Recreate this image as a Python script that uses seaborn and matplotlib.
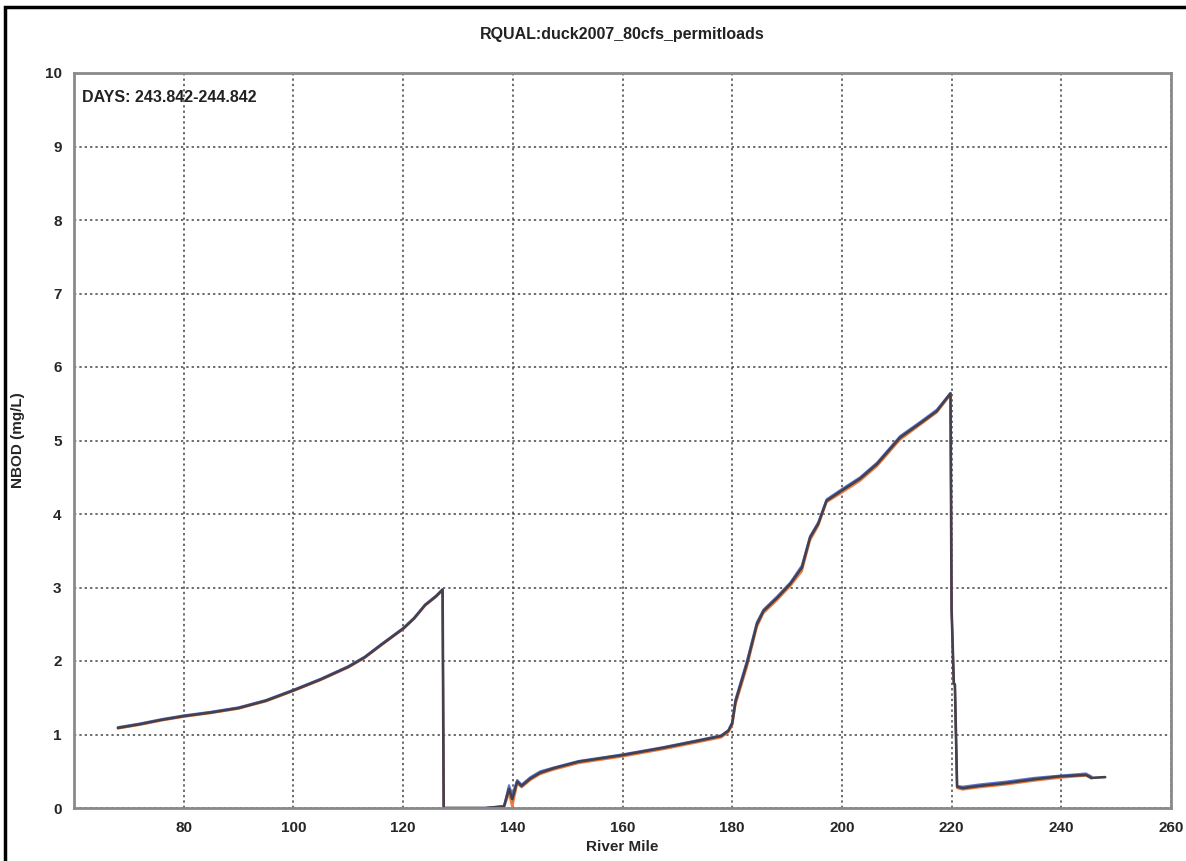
import numpy as np
import pandas as pd
import matplotlib
matplotlib.use("Agg")
import matplotlib.pyplot as plt
from matplotlib.patches import Rectangle
import seaborn as sns

# ---------------- data ----------------
river_mile = [68, 72, 76, 80, 85, 90, 95, 100, 105, 110, 113, 116, 118, 120, 122,
              124, 126, 127.2, 127.4, 130, 135,
              138.4, 139.3, 139.9, 140.8, 141.6, 143.2, 145, 147.4, 152, 160,
              167.5, 173.5, 178, 179.3, 180, 180.6, 182.7, 184.5, 185.7, 188.2,
              190.6, 192.7, 194.2, 195.7, 197.2, 200, 203.3, 206.4, 210.6, 214.2,
              217.3, 219.8, 220.0, 220.4, 220.6, 221.0, 222, 225, 230, 235,
              239.6, 244.5, 245.5, 248]

nbod_dark = [1.09, 1.14, 1.20, 1.25, 1.30, 1.36, 1.46, 1.60, 1.75, 1.92, 2.05, 2.22, 2.33, 2.44, 2.58,
             2.76, 2.88, 2.97, 0.0, 0.0, 0.0,
             0.02, 0.26, 0.12, 0.36, 0.30, 0.40, 0.48, 0.54, 0.63, 0.72,
             0.82, 0.91, 0.98, 1.05, 1.15, 1.45, 1.97, 2.50, 2.68, 2.86,
             3.05, 3.27, 3.68, 3.87, 4.18, 4.32, 4.48, 4.68, 5.04, 5.23,
             5.40, 5.64, 2.70, 1.70, 1.68, 0.29, 0.27, 0.30, 0.34, 0.39,
             0.43, 0.45, 0.41, 0.42]

nbod_blue = [1.10, 1.15, 1.21, 1.26, 1.31, 1.37, 1.47, 1.61, 1.76, 1.93, 2.06, 2.23, 2.34, 2.45, 2.59,
             2.77, 2.89, 2.98, 0.0, 0.0, 0.0,
             0.03, 0.31, 0.19, 0.38, 0.32, 0.42, 0.50, 0.55, 0.64, 0.73,
             0.83, 0.92, 0.99, 1.06, 1.17, 1.48, 2.01, 2.53, 2.70, 2.88,
             3.07, 3.30, 3.70, 3.89, 4.20, 4.34, 4.50, 4.70, 5.06, 5.25,
             5.42, 5.65, 2.70, 1.70, 1.68, 0.30, 0.29, 0.32, 0.36, 0.41,
             0.44, 0.47, 0.43, np.nan]

nbod_orange = [1.08, 1.13, 1.19, 1.24, 1.29, 1.35, 1.45, 1.59, 1.74, 1.91, 2.04, 2.21, 2.32, 2.43, 2.57,
               2.75, 2.87, 2.96, 0.0, 0.0, 0.0,
               0.01, 0.20, 0.01, 0.33, 0.28, 0.38, 0.46, 0.52, 0.61, 0.70,
               0.80, 0.89, 0.96, 1.03, 1.12, 1.40, 1.92, 2.46, 2.65, 2.83,
               3.02, 3.22, 3.64, 3.84, 4.16, 4.29, 4.45, 4.65, 5.01, 5.21,
               5.38, 5.62, 2.70, 1.70, 1.66, 0.27, 0.25, 0.28, 0.32, 0.37,
               0.41, 0.44, 0.40, np.nan]

x_ticks = [80, 100, 120, 140, 160, 180, 200, 220, 240, 260]
y_ticks = [0, 1, 2, 3, 4, 5, 6, 7, 8, 9, 10]

title_text = "RQUAL:duck2007_80cfs_permitloads"
days_text = "DAYS: 243.842-244.842"
x_label = "River Mile"
y_label = "NBOD (mg/L)"

# ---------------- figure ----------------
sns.set_style("white")
plt.rcParams["font.family"] = ["Liberation Sans", "DejaVu Sans"]

fig = plt.figure(figsize=(11.86, 8.61), dpi=100)
ax = fig.add_axes([74 / 1186, 53 / 861, 1097 / 1186, 735 / 861])

df_blue = pd.DataFrame({"mile": river_mile, "nbod": nbod_blue})
df_orange = pd.DataFrame({"mile": river_mile, "nbod": nbod_orange})
df_dark = pd.DataFrame({"mile": river_mile, "nbod": nbod_dark})

sns.lineplot(data=df_blue, x="mile", y="nbod", ax=ax, color="#5a78d8",
             linewidth=1.5, estimator=None, sort=False)
sns.lineplot(data=df_orange, x="mile", y="nbod", ax=ax, color="#ee7a3c",
             linewidth=1.5, estimator=None, sort=False)
sns.lineplot(data=df_dark, x="mile", y="nbod", ax=ax, color="#45404e",
             linewidth=1.9, estimator=None, sort=False)

ax.set_xlim(60, 260)
ax.set_ylim(0, 10)
ax.set_xticks(x_ticks)
ax.set_yticks(y_ticks)
ax.set_xticklabels([str(t) for t in x_ticks], fontsize=11, fontweight="bold")
ax.set_yticklabels([str(t) for t in y_ticks], fontsize=11, fontweight="bold")
ax.tick_params(axis="both", length=4, width=1.2, color="#888888", pad=5)

ax.grid(True, linestyle=(0, (1.5, 2.0)), color="#444444", linewidth=1.1)
for side in ["left", "bottom", "right", "top"]:
    ax.spines[side].set_color("#8a8a8a")
    ax.spines[side].set_linewidth(2.0)

ax.set_xlabel(x_label, fontsize=11, fontweight="bold", labelpad=4)
ax.set_ylabel(y_label, fontsize=11, fontweight="bold", labelpad=14)

ax.text(0.007, 0.977, days_text, transform=ax.transAxes, fontsize=11.5,
        fontweight="bold", ha="left", va="top", color="#222222")
fig.text(622 / 1186, 1 - 35 / 861, title_text, fontsize=11.5,
         fontweight="bold", ha="center", va="center", color="#222222")

# outer frame of the original screenshot
fig.add_artist(Rectangle((5 / 1186, -0.05), 1.2, 1.05 - 7 / 861,
                         transform=fig.transFigure, fill=False,
                         edgecolor="black", linewidth=2.5, clip_on=False))

fig.savefig("out.png", dpi=100)
